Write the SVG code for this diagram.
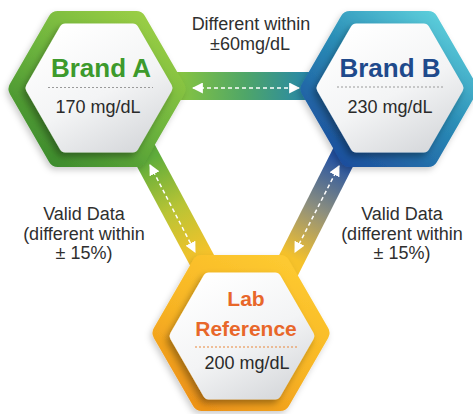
<svg xmlns="http://www.w3.org/2000/svg" width="473" height="414" viewBox="0 0 473 414">
<defs>
<style>
.lbl{font-family:"Liberation Sans",Arial,sans-serif;font-size:18px;fill:#2f2f2f;text-anchor:middle}
.ttl{font-family:"Liberation Sans",Arial,sans-serif;font-weight:bold;text-anchor:middle}
.val{font-family:"Liberation Sans",Arial,sans-serif;font-size:18px;fill:#2a2a2a;text-anchor:middle}
.dash{stroke:#fff;stroke-width:1.5;stroke-dasharray:4 3;fill:none;marker-start:url(#ah);marker-end:url(#ah)}
.dot{stroke-width:1;stroke-dasharray:2 2;fill:none}
.inner{fill:url(#gw);stroke:url(#gw);stroke-width:12;stroke-linejoin:round;filter:url(#sh)}
</style>
<marker id="ah" viewBox="0 0 10 10" refX="9" refY="5" markerWidth="11" markerHeight="11" markerUnits="userSpaceOnUse" orient="auto-start-reverse">
<path d="M0,0 L10,5 L0,10 z" fill="#fff"/>
</marker>
<filter id="sh" x="-20%" y="-20%" width="140%" height="140%">
<feDropShadow dx="-3" dy="4" stdDeviation="3.5" flood-color="#000" flood-opacity="0.35"/>
</filter>
<filter id="sh2" x="-20%" y="-20%" width="140%" height="140%">
<feDropShadow dx="-2" dy="3" stdDeviation="3" flood-color="#000" flood-opacity="0.2"/>
</filter>
<linearGradient id="gw" x1="0.2" y1="0" x2="0.8" y2="1">
<stop offset="0" stop-color="#ffffff"/>
<stop offset="0.55" stop-color="#f3f4f5"/>
<stop offset="1" stop-color="#d8dadd"/>
</linearGradient>
<linearGradient id="gA" x1="0.9" y1="0" x2="0.1" y2="1">
<stop offset="0" stop-color="#9ccf45"/>
<stop offset="0.5" stop-color="#6cb33d"/>
<stop offset="1" stop-color="#3b8a2c"/>
</linearGradient>
<linearGradient id="gB" x1="0.9" y1="0" x2="0.1" y2="1">
<stop offset="0" stop-color="#5ed0dc"/>
<stop offset="0.45" stop-color="#2a8db6"/>
<stop offset="1" stop-color="#1c4c9c"/>
</linearGradient>
<linearGradient id="gL" x1="0.8" y1="0" x2="0.2" y2="1">
<stop offset="0" stop-color="#fdc930"/>
<stop offset="0.55" stop-color="#f7b424"/>
<stop offset="1" stop-color="#ee9419"/>
</linearGradient>
<linearGradient id="gH" gradientUnits="userSpaceOnUse" x1="180" y1="0" x2="310" y2="0">
<stop offset="0" stop-color="#86c440"/>
<stop offset="0.5" stop-color="#4fa668"/>
<stop offset="1" stop-color="#2586ac"/>
</linearGradient>
<linearGradient id="gDL" gradientUnits="userSpaceOnUse" x1="148" y1="160" x2="200" y2="258">
<stop offset="0" stop-color="#5fad3b"/>
<stop offset="0.5" stop-color="#b9c435"/>
<stop offset="1" stop-color="#f6c22a"/>
</linearGradient>
<linearGradient id="gDR" gradientUnits="userSpaceOnUse" x1="342" y1="160" x2="292" y2="258">
<stop offset="0" stop-color="#2453a4"/>
<stop offset="0.5" stop-color="#8d8f7e"/>
<stop offset="1" stop-color="#f6c22a"/>
</linearGradient>
</defs>

<g id="connectors">
<line x1="150" y1="86" x2="330" y2="86" stroke="url(#gH)" stroke-width="28"/>
<line x1="130" y1="126" x2="218" y2="290" stroke="url(#gDL)" stroke-width="26"/>
<line x1="362" y1="120" x2="276" y2="290" stroke="url(#gDR)" stroke-width="26"/>
<line class="dash" x1="193" y1="88" x2="299" y2="88"/>
<line class="dash" x1="150" y1="165" x2="195" y2="252"/>
<line class="dash" x1="339" y1="166" x2="295" y2="252"/>
</g>

<g id="node-brand-a">
<polygon points="18.5,89 57.75,21 136.25,21 175.5,89 136.25,157 57.75,157" fill="url(#gA)" stroke="url(#gA)" stroke-width="20" stroke-linejoin="round" filter="url(#sh2)"/>
<polygon class="inner" points="31.5,88 65.25,29.5 132.75,29.5 166.5,88 132.75,146.5 65.25,146.5"/>
<text class="ttl" x="101" y="77" font-size="26" fill="#3d9a2c">Brand A</text>
<line class="dot" x1="48" y1="87.5" x2="153" y2="87.5" stroke="#9a9a9a"/>
<text class="val" x="98" y="113">170 mg/dL</text>
</g>

<g id="node-brand-b">
<polygon points="310.5,89 349.75,21 428.25,21 467.5,89 428.25,157 349.75,157" fill="url(#gB)" stroke="url(#gB)" stroke-width="20" stroke-linejoin="round" filter="url(#sh2)"/>
<polygon class="inner" points="322.5,88 356.25,29.5 423.75,29.5 457.5,88 423.75,146.5 356.25,146.5"/>
<text class="ttl" x="390" y="77" font-size="26" fill="#1f4a8c">Brand B</text>
<line class="dot" x1="337" y1="87" x2="443" y2="87" stroke="#9a9a9a"/>
<text class="val" x="390" y="113">230 mg/dL</text>
</g>

<g id="node-lab">
<polygon points="162.5,333 201.75,265 280.25,265 319.5,333 280.25,401 201.75,401" fill="url(#gL)" stroke="url(#gL)" stroke-width="20" stroke-linejoin="round" filter="url(#sh2)"/>
<polygon class="inner" points="175.6,336 208.8,278.5 275.2,278.5 308.4,336 275.2,393.5 208.8,393.5"/>
<text class="ttl" x="246" y="306" font-size="21" fill="#e8672a">Lab</text>
<text class="ttl" x="246" y="336" font-size="21" fill="#e8672a">Reference</text>
<line class="dot" x1="195" y1="347" x2="297" y2="347" stroke="#e8873a"/>
<text class="val" x="247" y="369">200 mg/dL</text>
</g>

<g id="labels">
<text class="lbl" x="251" y="30">Different within</text>
<text class="lbl" x="250" y="50">±60mg/dL</text>
<text class="lbl" x="84" y="220">Valid Data</text>
<text class="lbl" x="84" y="239.5">(different within</text>
<text class="lbl" x="84" y="259">± 15%)</text>
<text class="lbl" x="402" y="220">Valid Data</text>
<text class="lbl" x="402" y="239.5">(different within</text>
<text class="lbl" x="402" y="259">± 15%)</text>
</g>
</svg>
